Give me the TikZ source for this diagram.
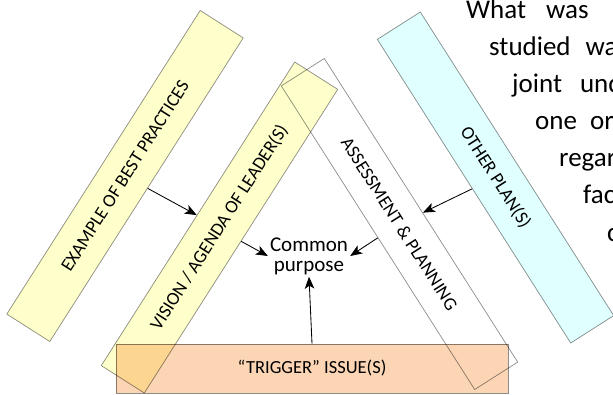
\documentclass[tikz,border=0pt]{standalone}
\usepackage{fontspec}
\setmainfont{Carlito}
\usetikzlibrary{arrows.meta}
\definecolor{bandyellow}{HTML}{FFFFCC}
\definecolor{bandpeach}{HTML}{FCD5B4}
\definecolor{bandcyan}{HTML}{E0FFFF}
\definecolor{bandline}{HTML}{8C8C8C}
\tikzstyle{band}=[draw=bandline,line width=0.7pt,minimum width=360pt,minimum height=51pt,inner sep=0pt,font=\fontsize{18.5}{18.5}\selectfont]
\tikzstyle{link}=[-{Stealth[length=12pt,width=9.5pt,inset=3pt]},line width=0.85pt]
\tikzstyle{para}=[anchor=base west,inner sep=0pt,font=\fontsize{27}{27}\selectfont]

\begin{document}
\begin{tikzpicture}[x=1pt,y=1pt]
                  \useasboundingbox (0,0) rectangle (613,394);

                  \begin{scope}[blend mode=multiply]
                  \node (ex) at (125,218) [band,fill=bandyellow,rotate=57.5] {EXAMPLE OF BEST PRACTICES};
                  \node (vis) at (219.5,166.5) [band,fill=bandyellow,rotate=57.5] {VISION / AGENDA OF LEADER(S)};
                  \node (ap) at (399.5,170) [band,rotate=-57.5] {ASSESSMENT \& PLANNING};
                  \node (op) at (495.5,216.5) [band,fill=bandcyan,rotate=-57.5] {OTHER PLAN(S)};
                  \node (tr) at (312,25.5) [band,fill=bandpeach,minimum width=392pt,minimum height=49pt] {“TRIGGER” ISSUE(S)};
                  \end{scope}

                  \node (cp) at (309,138) [align=center,inner sep=2pt,font=\fontsize{21}{20}\selectfont] {Common\\purpose};

                  \draw [link] (ex) -- (vis);
                  \draw [link] (vis.south) -- (cp.west);
                  \draw [link] (op) -- (ap);
                  \draw [link] (ap.south) -- (cp.east);
                  \draw [link] (tr.north) -- (cp.south);

                  \node (w1) at (466,375) [para] {What\hspace{20pt}was};
                  \node (w2) at (489,338) [para] {studied\hspace{15pt}wa};
                  \node (w3) at (512,301) [para] {joint\hspace{18pt}und};
                  \node (w4) at (535,264) [para] {one\hspace{13pt}or};
                  \node (w5) at (559,227) [para] {regar};
                  \node (w6) at (583,190) [para] {fac};
                  \node (w7) at (607,153) [para] {c};
              \end{tikzpicture}
\end{document}
